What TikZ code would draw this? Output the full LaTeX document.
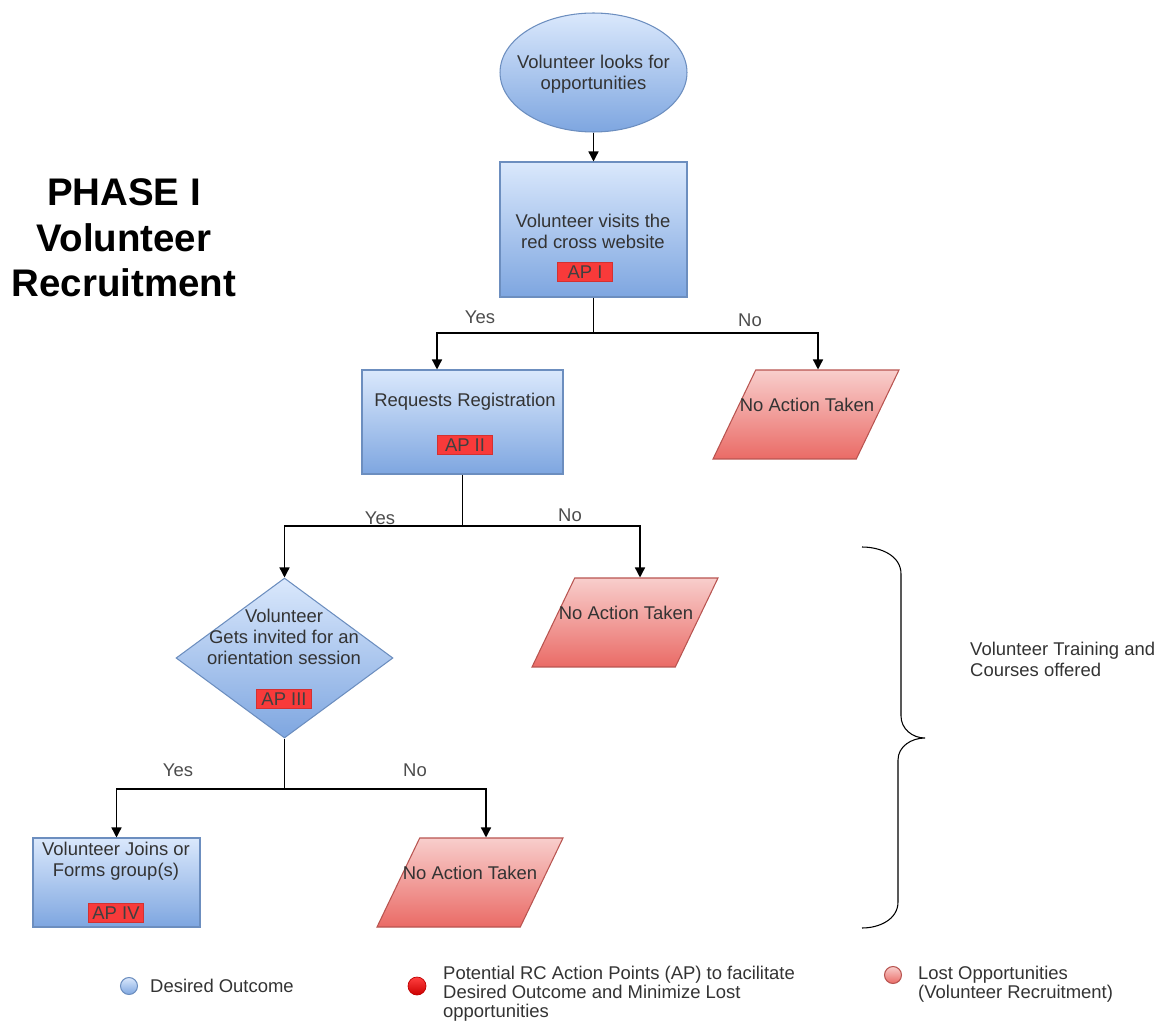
\documentclass[tikz,border=0pt]{standalone}
\usepackage{fontspec}
\setmainfont{Liberation Sans}
\usetikzlibrary{arrows.meta, positioning, calc, shapes.geometric}
\definecolor{blutop}{HTML}{DAE8FC}
\definecolor{blubot}{HTML}{7EA6E0}
\definecolor{bluline}{HTML}{6C8EBF}
\definecolor{redtop}{HTML}{F8CECC}
\definecolor{redbot}{HTML}{EA6B66}
\definecolor{redline}{HTML}{B85450}
\definecolor{apred}{HTML}{F83A3A}
\definecolor{inkgray}{HTML}{333333}

\begin{document}
\begin{tikzpicture}[
  x=0.02cm, y=-0.02cm,
  every node/.style={font=\fontsize{10.5}{12}\selectfont, text=inkgray, align=center},
  good/.style={draw=bluline, top color=blutop, bottom color=blubot, line width=0.6pt},
  lost/.style={trapezium, trapezium left angle=67, trapezium right angle=113, trapezium stretches=true, draw=redline, top color=redtop, bottom color=redbot, minimum width=3.72cm, minimum height=1.78cm, inner sep=2pt, line width=0.6pt},
  ap/.style={fill=apred, draw=apred!85!black, line width=0.3pt, text=black!75, minimum width=1.1cm, minimum height=0.38cm, inner sep=1pt},
  lbl/.style={text=black!70},
  key/.style={anchor=west, align=left, font=\fontsize{10.5}{10.8}\selectfont},
  line/.style={line width=0.8pt, black},
  arr/.style={line, -{Triangle[length=0.2cm, width=0.2cm]}}
]
\useasboundingbox (0,0) rectangle (1166,1027);

\node[font=\bfseries\fontsize{21.9}{25.8}\selectfont, text=black] (phase) at (124,238) {PHASE I\\Volunteer\\Recruitment};

\node[good, ellipse, minimum width=3.74cm, minimum height=2.38cm, inner sep=0pt] (look) at (593.5,72.5) {};
\node (looktxt) at (593.5,74) {Volunteer looks for\\opportunities};

\node[good, minimum width=3.74cm, minimum height=2.7cm] (visit) at (593.5,229.5) {};
\node (visittxt) at (593,231) {Volunteer visits the\\red cross website};
\node[ap] (ap1) at (585,272) {AP I};

\node[good, minimum width=4.02cm, minimum height=2.08cm] (reg) at (462.5,422) {};
\node (regtxt) at (465,402) {Requests Registration};
\node[ap] (ap2) at (465,445) {AP II};

\node[lost] (na1) at (806,414.5) {};
\node (na1txt) at (807,405) {No Action Taken};

\node[good, diamond, aspect=1.36, minimum width=4.34cm, minimum height=3.2cm, inner sep=0pt] (invite) at (284.5,658) {};
\node (invitetxt) at (284,637) {Volunteer\\Gets invited for an\\orientation session};
\node[ap] (ap3) at (284,699) {AP III};

\node[lost] (na2) at (625,622.5) {};
\node (na2txt) at (626,613) {No Action Taken};

\node[good, minimum width=3.34cm, minimum height=1.78cm] (join) at (116.5,882.5) {};
\node (jointxt) at (116,861) {Volunteer Joins or\\Forms group(s)};
\node[ap] (ap4) at (116,913) {AP IV};

\node[lost] (na3) at (470,882.5) {};
\node (na3txt) at (470,873) {No Action Taken};

% branch points
\coordinate (j1) at (593.5,333);
\coordinate (j2) at (462.5,526);
\coordinate (j3) at (284.5,789);

\draw[arr] (look) -- (visit);
\draw[line] (visit) -- (j1);
\draw[arr] (j1) -| ([xshift=-0.51cm]reg.north);
\draw[arr] (j1) -| ([xshift=0.24cm]na1.north);
\draw[line] (reg) -- (j2);
\draw[arr] (j2) -| (invite.north);
\draw[arr] (j2) -| ([xshift=0.3cm]na2.north);
\draw[line] (invite) -- (j3);
\draw[arr] (j3) -| (join.north);
\draw[arr] (j3) -| ([xshift=0.32cm]na3.north);

\node[lbl] at (480,317) {Yes};
\node[lbl] at (750,320) {No};
\node[lbl] at (380,518) {Yes};
\node[lbl] at (570,515) {No};
\node[lbl] at (178,770) {Yes};
\node[lbl] at (415,770) {No};

% brace
\draw[line width=0.6pt] (862,547) to[out=0,in=90] (901,574) -- (901,716) to[out=-90,in=180] (925,738)
  to[out=180,in=90] (898,760) -- (898,902) to[out=-90,in=0] (862,928);
\node[key, font=\fontsize{10.5}{12}\selectfont] (train) at (964,659) {Volunteer Training and\\Courses offered};

% legend
\node[good, circle, minimum size=0.34cm, inner sep=0pt] (keygood) at (129,986) {};
\node[key] (keygoodtxt) at (144,986) {Desired Outcome};
\node[circle, draw=red!75!black, top color=red!75, bottom color=red!80!black, minimum size=0.36cm, inner sep=0pt, line width=0.4pt] (keyap) at (417,986) {};
\node[key] (keyaptxt) at (437,994) {Potential RC Action Points (AP) to facilitate\\Desired Outcome and Minimize Lost\\opportunities};
\node[circle, draw=redline, top color=redtop, bottom color=redbot, minimum size=0.34cm, inner sep=0pt, line width=0.6pt] (keylost) at (893,975) {};
\node[key] (keylosttxt) at (912,984.5) {Lost Opportunities\\(Volunteer Recruitment)};
\end{tikzpicture}
\end{document}
